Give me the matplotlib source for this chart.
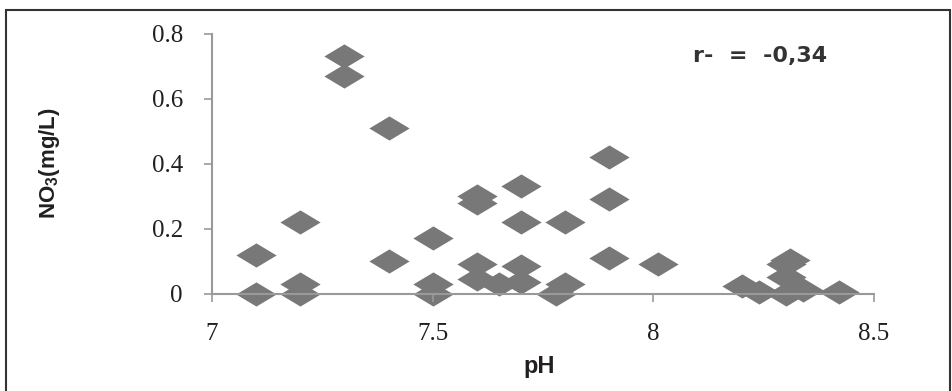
import matplotlib
matplotlib.use("Agg")
import matplotlib.pyplot as plt
from matplotlib.path import Path
from matplotlib.patches import Rectangle

plt.rcParams["font.family"] = ["Liberation Serif", "DejaVu Serif"]
plt.rcParams["mathtext.fontset"] = "custom"
plt.rcParams["mathtext.bf"] = "Liberation Sans:bold"
plt.rcParams["mathtext.rm"] = "Liberation Sans"

# pH vs nitrate
ph = [7.1, 7.1, 7.2, 7.2, 7.2, 7.3, 7.3, 7.4, 7.4, 7.5, 7.5, 7.5,
      7.6, 7.6, 7.6, 7.6, 7.65, 7.7, 7.7, 7.7, 7.7, 7.78, 7.8, 7.8,
      7.9, 7.9, 7.9, 8.01, 8.2, 8.24, 8.31, 8.3, 8.3, 8.3, 8.34, 8.42]
no3 = [0.12, 0.0, 0.22, 0.03, 0.0, 0.73, 0.67, 0.51, 0.10, 0.17, 0.03, 0.0,
       0.30, 0.28, 0.09, 0.045, 0.03, 0.33, 0.22, 0.085, 0.035, 0.0, 0.22, 0.03,
       0.42, 0.29, 0.11, 0.09, 0.025, 0.005, 0.105, 0.09, 0.05, 0.0, 0.01, 0.005]

xticks = [7, 7.5, 8, 8.5]
xlabels = ["7", "7.5", "8", "8.5"]
yticks = [0, 0.2, 0.4, 0.6, 0.8]
ylabels = ["0", "0.2", "0.4", "0.6", "0.8"]

# flat diamond marker
diamond = Path([(-1, 0), (0, 0.6), (1, 0), (0, -0.6), (-1, 0)],
               [Path.MOVETO, Path.LINETO, Path.LINETO, Path.LINETO, Path.CLOSEPOLY])

fig = plt.figure(figsize=(9.53, 3.91), dpi=100)
ax = fig.add_axes([0.2225, 0.249, 0.6945, 0.665])

ax.scatter(ph, no3, marker=diamond, s=29**2, color="#787878", linewidths=0, clip_on=False)

ax.set_xlim(7, 8.5)
ax.set_ylim(0, 0.8)
ax.set_xticks(xticks)
ax.set_xticklabels(xlabels, fontsize=18, color="#231f20")
ax.set_yticks(yticks)
ax.set_yticklabels(ylabels, fontsize=18, color="#231f20")
ax.tick_params(direction="out", length=6, width=1.2, color="#999999", pad=15)

for s in ["top", "right"]:
    ax.spines[s].set_visible(False)
for s in ["left", "bottom"]:
    ax.spines[s].set_color("#999999")
    ax.spines[s].set_linewidth(1.5)

ax.set_xlabel("pH", family="Liberation Sans", fontweight="bold", fontsize=17, color="#231f20")
ax.xaxis.set_label_coords(0.495, -0.282)
ax.xaxis.label.set_va("center")
ax.set_ylabel("NO$_\\mathbf{3}$(mg/L)", family="Liberation Sans", fontweight="bold",
              fontsize=16, color="#231f20")
ax.yaxis.set_label_coords(-0.245, 0.5)
ax.yaxis.label.set_va("center")
ax.text(0.726, 0.915, "r-  =  -0,34", transform=ax.transAxes, family="DejaVu Sans",
        fontweight="bold", fontsize=16, ha="left", va="center", color="#333333")

# outer frame
fig.patches.append(Rectangle((0.006, -0.05), 0.991, 1.025, transform=fig.transFigure,
                             fill=False, edgecolor="#333333", linewidth=1.5))

fig.savefig("out.png", dpi=100)
